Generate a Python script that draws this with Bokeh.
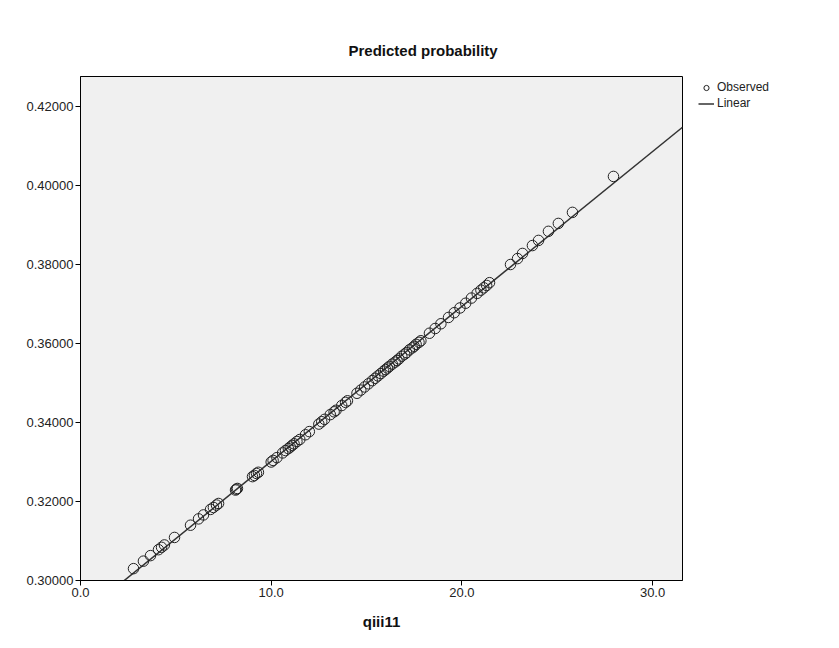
import numpy as np
from bokeh.plotting import figure
from bokeh.models import Range1d, FixedTicker, NumeralTickFormatter, Legend, LegendItem, ColumnDataSource
from bokeh.embed import file_html
from bokeh.resources import INLINE

# ---- data ----
qiii11 = [2.78, 3.30, 3.67, 4.09, 4.25, 4.40, 4.93, 5.77, 6.19, 6.45, 6.82, 6.97, 7.13, 7.24,
          8.13, 8.18, 8.23, 9.02, 9.12, 9.23, 9.33,
          10.0, 10.1, 10.3, 10.6, 10.75, 10.9, 11.0, 11.1, 11.2, 11.35, 11.5, 11.8, 12.0,
          12.5, 12.65, 12.8, 13.1, 13.3, 13.4, 13.7, 13.9, 14.0,
          14.5, 14.7, 14.9, 15.1, 15.3, 15.45, 15.6, 15.75, 15.9, 16.0, 16.1, 16.2, 16.35,
          16.5, 16.6, 16.7, 16.85, 17.0, 17.1, 17.25, 17.4, 17.5, 17.6, 17.75, 17.85,
          18.3, 18.6, 18.9, 19.3, 19.6, 19.9, 20.2, 20.5, 20.8, 21.0, 21.15, 21.3, 21.45,
          22.55, 22.92, 23.18, 23.70, 24.02, 24.54, 25.06, 25.80, 27.95]
predicted = [0.3030, 0.3049, 0.3063, 0.3078, 0.3084, 0.3090, 0.3109, 0.3140, 0.3156, 0.3166, 0.3180, 0.3185, 0.3191, 0.3195,
             0.3229, 0.3231, 0.3233, 0.3263, 0.3266, 0.3271, 0.3274,
             0.3300, 0.3304, 0.3311, 0.3323, 0.3329, 0.3334, 0.3338, 0.3342, 0.3346, 0.3352, 0.3357, 0.3369, 0.3377,
             0.3396, 0.3402, 0.3408, 0.3420, 0.3427, 0.3431, 0.3443, 0.3451, 0.3455,
             0.3474, 0.3482, 0.3490, 0.3498, 0.3506, 0.3512, 0.3518, 0.3524, 0.3530, 0.3534, 0.3538, 0.3542, 0.3548,
             0.3553, 0.3557, 0.3561, 0.3568, 0.3573, 0.3577, 0.3584, 0.3589, 0.3593, 0.3598, 0.3603, 0.3607,
             0.3626, 0.3638, 0.3650, 0.3666, 0.3678, 0.3690, 0.3702, 0.3715, 0.3727, 0.3735, 0.3741, 0.3747, 0.3754,
             0.3800, 0.3815, 0.3828, 0.3848, 0.3861, 0.3884, 0.3904, 0.3932, 0.4023]
fit_intercept = 0.2910
fit_slope = 0.00392
x_ticks = [0, 10, 20, 30]
y_ticks = [0.30, 0.32, 0.34, 0.36, 0.38, 0.40, 0.42]
title_text = "Predicted probability"
x_label = "qiii11"
legend_labels = ["Observed", "Linear"]

FONT = "Liberation Sans"
x_min, x_max = 0.0, 31.57
y_min, y_max = 0.30, 0.4276

p = figure(frame_width=602, frame_height=504, output_backend="svg", toolbar_location=None,
           x_range=Range1d(x_min, x_max), y_range=Range1d(y_min, y_max),
           min_border_left=80, min_border_right=157, min_border_top=76, min_border_bottom=68)

p.background_fill_color = "#f0f0f0"
p.border_fill_color = "white"
p.outline_line_color = "black"
p.outline_line_width = 1
p.grid.visible = False

# fit line
fx = np.array([x_min, x_max])
fy = fit_intercept + fit_slope * fx
r_line = p.line(fx, fy, line_color="#333333", line_width=1.5)

# observed points
src = ColumnDataSource(dict(x=qiii11, y=predicted))
r_pts = p.scatter("x", "y", source=src, marker="circle", size=10.5, fill_color=None,
                  line_color="#222222", line_width=1)

# axes
for ax in (p.xaxis[0], p.yaxis[0]):
    ax.axis_line_color = "black"
    ax.major_tick_line_color = "black"
    ax.major_tick_out = 5
    ax.major_tick_in = 0
    ax.minor_tick_line_color = None
    ax.major_label_text_font = FONT
    ax.major_label_text_font_size = "13px"
    ax.major_label_text_color = "#222222"
    ax.major_label_standoff = 2

p.xaxis.ticker = FixedTicker(ticks=x_ticks)
p.xaxis.formatter = NumeralTickFormatter(format="0.0")
p.yaxis.ticker = FixedTicker(ticks=y_ticks)
p.yaxis.formatter = NumeralTickFormatter(format="0.00000")

p.xaxis.axis_label = x_label
p.xaxis.axis_label_text_font = FONT
p.xaxis.axis_label_text_font_size = "15px"
p.xaxis.axis_label_text_font_style = "bold"
p.xaxis.axis_label_text_color = "#111111"
p.xaxis.axis_label_standoff = 13

# title
p.title.text = title_text
p.title.align = "left"
p.title.offset = 268
p.title.text_font = FONT
p.title.text_font_size = "15px"
p.title.text_font_style = "bold"
p.title.text_color = "#111111"
p.title.standoff = 35

legend = Legend(items=[LegendItem(label=legend_labels[0], renderers=[r_pts]),
                       LegendItem(label=legend_labels[1], renderers=[r_line])],
                location=(16, 470), padding=0, margin=0, border_line_color=None,
                background_fill_alpha=0, label_text_font=FONT, label_text_font_size="12px",
                label_text_color="#222222", glyph_width=16, glyph_height=13, label_height=13,
                spacing=2, label_standoff=3)
p.add_layout(legend, "right")

open("out.html", "w").write(file_html(p, INLINE))
